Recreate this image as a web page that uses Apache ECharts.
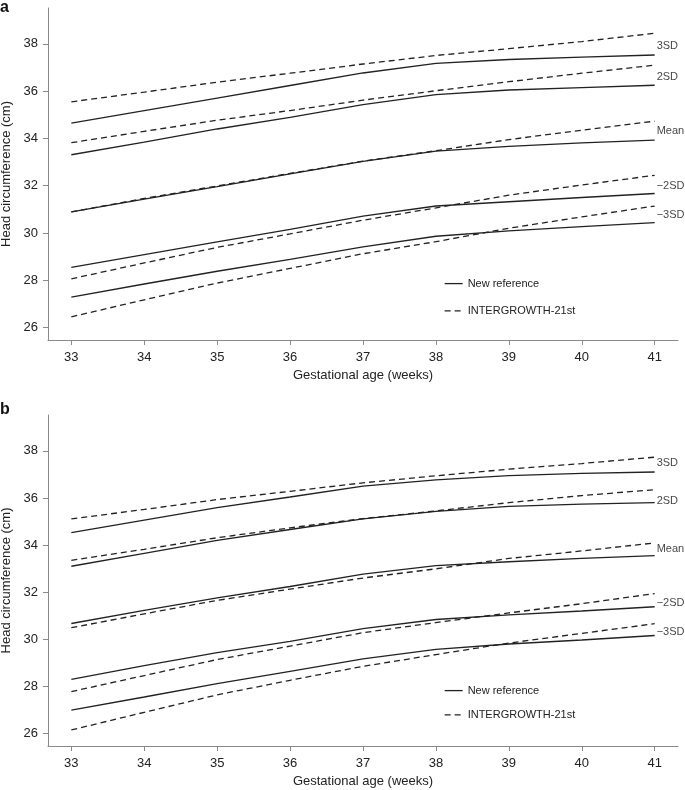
<!DOCTYPE html>
<html>
<head>
<meta charset="utf-8">
<script src="https://cdn.jsdelivr.net/npm/echarts@6/dist/echarts.min.js"></script>
<style>
  html, body { margin: 0; padding: 0; background: #fff; }
  #chart { width: 685px; height: 790px; }
</style>
</head>
<body>
<div id="chart"></div>
<script>
// ---- Data ----
const weeks = [33, 34, 35, 36, 37, 38, 39, 40, 41];
const xTicks = [33, 34, 35, 36, 37, 38, 39, 40, 41];
const yTicks = [26, 28, 30, 32, 34, 36, 38];
const curveNames = ['3SD', '2SD', 'Mean', '\u22122SD', '\u22123SD'];
const legendNames = ['New reference', 'INTERGROWTH-21st'];

// Panel a
const aNew3SD  = [34.65, 35.18, 35.71, 36.24, 36.77, 37.18, 37.34, 37.44, 37.53];
const aNew2SD  = [33.31, 33.84, 34.40, 34.89, 35.43, 35.85, 36.05, 36.15, 36.25];
const aNewMean = [30.89, 31.43, 31.96, 32.50, 33.03, 33.46, 33.66, 33.81, 33.93];
const aNewM2SD = [28.54, 29.08, 29.62, 30.15, 30.71, 31.14, 31.32, 31.50, 31.67];
const aNewM3SD = [27.28, 27.84, 28.38, 28.88, 29.41, 29.86, 30.09, 30.27, 30.44];
const aIG3SD   = [35.55, 35.96, 36.38, 36.76, 37.15, 37.51, 37.80, 38.10, 38.45];
const aIG2SD   = [33.82, 34.30, 34.77, 35.18, 35.62, 36.02, 36.40, 36.76, 37.10];
const aIGMean  = [30.89, 31.46, 31.99, 32.52, 33.04, 33.48, 33.95, 34.35, 34.73];
const aIGM2SD  = [28.06, 28.73, 29.39, 29.96, 30.54, 31.06, 31.60, 32.03, 32.44];
const aIGM3SD  = [26.45, 27.17, 27.88, 28.50, 29.12, 29.63, 30.20, 30.68, 31.14];
const aLabelY  = [37.92, 36.60, 34.31, 31.98, 30.75];

// Panel b
const bNew3SD  = [34.53, 35.06, 35.59, 36.04, 36.50, 36.77, 36.95, 37.04, 37.10];
const bNew2SD  = [33.10, 33.65, 34.20, 34.66, 35.11, 35.43, 35.64, 35.74, 35.80];
const bNewMean = [30.67, 31.23, 31.76, 32.24, 32.77, 33.13, 33.29, 33.43, 33.55];
const bNewM2SD = [28.30, 28.88, 29.43, 29.91, 30.45, 30.84, 31.04, 31.20, 31.38];
const bNewM3SD = [26.99, 27.55, 28.12, 28.64, 29.17, 29.57, 29.80, 29.97, 30.16];
const bIG3SD   = [35.11, 35.51, 35.93, 36.28, 36.64, 36.94, 37.22, 37.46, 37.73];
const bIG2SD   = [33.35, 33.82, 34.31, 34.73, 35.12, 35.45, 35.80, 36.10, 36.35];
const bIGMean  = [30.49, 31.08, 31.65, 32.13, 32.60, 32.99, 33.43, 33.75, 34.09];
const bIGM2SD  = [27.78, 28.46, 29.14, 29.71, 30.28, 30.71, 31.12, 31.51, 31.94];
const bIGM3SD  = [26.15, 26.90, 27.64, 28.26, 28.85, 29.35, 29.84, 30.25, 30.66];
const bLabelY  = [37.49, 35.88, 33.85, 31.56, 30.33];

// ---- Styling ----
const FONT = "'Liberation Sans', Arial, Helvetica, sans-serif";
const LINE_COLOR = '#222';
const AXIS_COLOR = '#8a8a8a';
const TEXT_COLOR = '#222';

function pairs(vals) { return weeks.map((w, i) => [w, vals[i]]); }

function lineSeries(idx, name, vals, dashed) {
  return {
    type: 'line', name: name,
    xAxisIndex: idx, yAxisIndex: idx,
    data: pairs(vals),
    showSymbol: false, symbol: 'none',
    lineStyle: { color: LINE_COLOR, width: 1.3, type: dashed ? [6, 4] : 'solid' },
    itemStyle: { color: LINE_COLOR },
    emphasis: { disabled: true },
    silent: true, z: 2
  };
}

function labelSeries(idx, ys) {
  return {
    type: 'scatter', xAxisIndex: idx, yAxisIndex: idx,
    symbolSize: 0, silent: true,
    data: ys.map((y, i) => ({ value: [weeks[weeks.length - 1], y], name: curveNames[i] })),
    label: {
      show: true, position: 'right', distance: 2,
      formatter: p => p.name,
      fontFamily: FONT, fontSize: 11, color: '#111'
    },
    emphasis: { disabled: true }
  };
}

function xAxis(idx) {
  return {
    type: 'value', gridIndex: idx, min: 32.68, max: 41.32,
    name: 'Gestational age (weeks)', nameLocation: 'middle', nameGap: 29,
    nameTextStyle: { fontFamily: FONT, fontSize: 13, color: TEXT_COLOR },
    axisLine: { show: true, lineStyle: { color: AXIS_COLOR, width: 1 } },
    axisTick: { show: true, length: 5, customValues: xTicks, lineStyle: { color: AXIS_COLOR } },
    axisLabel: { customValues: xTicks, margin: 11, fontFamily: FONT, fontSize: 13, color: TEXT_COLOR },
    splitLine: { show: false }
  };
}

function yAxis(idx) {
  return {
    type: 'value', gridIndex: idx, min: 25.47, max: 39.52,
    name: 'Head circumference (cm)', nameLocation: 'middle', nameGap: 33, nameRotate: 90,
    nameTextStyle: { fontFamily: FONT, fontSize: 13, color: TEXT_COLOR },
    axisLine: { show: true, lineStyle: { color: AXIS_COLOR, width: 1 } },
    axisTick: { show: true, length: 5, customValues: yTicks, lineStyle: { color: AXIS_COLOR } },
    axisLabel: { customValues: yTicks, margin: 10, fontFamily: FONT, fontSize: 13, color: TEXT_COLOR },
    splitLine: { show: false }
  };
}

function legend(top, gap) {
  return {
    data: legendNames, orient: 'vertical', left: 444, top: top, padding: 0,
    itemWidth: 18, itemHeight: 14, itemGap: gap,
    itemStyle: { color: 'rgba(0,0,0,0)', borderWidth: 0, opacity: 0 },
    lineStyle: { width: 1.3 },
    textStyle: { fontFamily: FONT, fontSize: 11, color: TEXT_COLOR },
    selectedMode: false
  };
}

const panels = [
  { n: [aNew3SD, aNew2SD, aNewMean, aNewM2SD, aNewM3SD], ig: [aIG3SD, aIG2SD, aIGMean, aIGM2SD, aIGM3SD], lab: aLabelY },
  { n: [bNew3SD, bNew2SD, bNewMean, bNewM2SD, bNewM3SD], ig: [bIG3SD, bIG2SD, bIGMean, bIGM2SD, bIGM3SD], lab: bLabelY }
];

const series = [];
panels.forEach((p, idx) => {
  p.n.forEach(v => series.push(lineSeries(idx, legendNames[0], v, false)));
  p.ig.forEach(v => series.push(lineSeries(idx, legendNames[1], v, true)));
  series.push(labelSeries(idx, p.lab));
});

const chart = echarts.init(document.getElementById('chart'), null, { renderer: 'canvas' });
chart.setOption({
  backgroundColor: '#fff',
  animation: false,
  grid: [
    { left: 48, right: 7, top: 8, height: 332, containLabel: false, outerBoundsMode: 'none' },
    { left: 48, right: 7, top: 415, height: 331, containLabel: false, outerBoundsMode: 'none' }
  ],
  xAxis: [xAxis(0), xAxis(1)],
  yAxis: [yAxis(0), yAxis(1)],
  legend: [legend(278, 16), legend(685, 13)],
  graphic: [
    { type: 'text', left: 0, top: 0, style: { text: 'a', font: 'bold 16px ' + FONT, fill: '#111' } },
    { type: 'text', left: 0, top: 402, style: { text: 'b', font: 'bold 16px ' + FONT, fill: '#111' } }
  ],
  series: series
});
</script>
</body>
</html>
